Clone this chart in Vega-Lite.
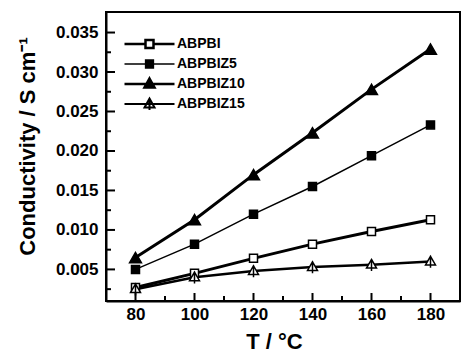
{
  "$schema": "https://vega.github.io/schema/vega-lite/v6.json",
  "width": 354,
  "height": 289,
  "autosize": {"type": "none"},
  "padding": {"left": 106, "top": 12, "right": 1, "bottom": 51},
  "background": "white",
  "config": {
    "view": {"stroke": "black", "strokeWidth": 2},
    "font": "Liberation Sans",
    "axis": {
      "domainColor": "black", "domainWidth": 2, "tickColor": "black", "tickWidth": 1.5,
      "labelFont": "Liberation Sans", "labelFontWeight": "bold", "labelFontSize": 17, "labelColor": "black",
      "titleFont": "Liberation Sans", "titleFontWeight": "bold", "titleFontSize": 22, "titleColor": "black",
      "grid": false, "labelOverlap": false
    }
  },
  "datasets": {
    "conductivity": [
      {"T": 80, "s": "ABPBI", "c": 0.0027}, {"T": 100, "s": "ABPBI", "c": 0.0045}, {"T": 120, "s": "ABPBI", "c": 0.0064},
      {"T": 140, "s": "ABPBI", "c": 0.0082}, {"T": 160, "s": "ABPBI", "c": 0.0098}, {"T": 180, "s": "ABPBI", "c": 0.0113},
      {"T": 80, "s": "ABPBIZ5", "c": 0.0050}, {"T": 100, "s": "ABPBIZ5", "c": 0.0082}, {"T": 120, "s": "ABPBIZ5", "c": 0.0120},
      {"T": 140, "s": "ABPBIZ5", "c": 0.0155}, {"T": 160, "s": "ABPBIZ5", "c": 0.0194}, {"T": 180, "s": "ABPBIZ5", "c": 0.0233},
      {"T": 80, "s": "ABPBIZ10", "c": 0.0065}, {"T": 100, "s": "ABPBIZ10", "c": 0.0113}, {"T": 120, "s": "ABPBIZ10", "c": 0.0170},
      {"T": 140, "s": "ABPBIZ10", "c": 0.0223}, {"T": 160, "s": "ABPBIZ10", "c": 0.0278}, {"T": 180, "s": "ABPBIZ10", "c": 0.0329},
      {"T": 80, "s": "ABPBIZ15", "c": 0.0025}, {"T": 100, "s": "ABPBIZ15", "c": 0.0040}, {"T": 120, "s": "ABPBIZ15", "c": 0.0048},
      {"T": 140, "s": "ABPBIZ15", "c": 0.0053}, {"T": 160, "s": "ABPBIZ15", "c": 0.0056}, {"T": 180, "s": "ABPBIZ15", "c": 0.0060}
    ],
    "xticks": [
      {"v": 80, "k": "major"}, {"v": 100, "k": "major"}, {"v": 120, "k": "major"}, {"v": 140, "k": "major"}, {"v": 160, "k": "major"}, {"v": 180, "k": "major"},
      {"v": 90, "k": "minor"}, {"v": 110, "k": "minor"}, {"v": 130, "k": "minor"}, {"v": 150, "k": "minor"}, {"v": 170, "k": "minor"}
    ],
    "yticks": [
      {"v": 0.005, "k": "major"}, {"v": 0.01, "k": "major"}, {"v": 0.015, "k": "major"}, {"v": 0.02, "k": "major"},
      {"v": 0.025, "k": "major"}, {"v": 0.03, "k": "major"}, {"v": 0.035, "k": "major"},
      {"v": 0.0025, "k": "minor"}, {"v": 0.0075, "k": "minor"}, {"v": 0.0125, "k": "minor"}, {"v": 0.0175, "k": "minor"},
      {"v": 0.0225, "k": "minor"}, {"v": 0.0275, "k": "minor"}, {"v": 0.0325, "k": "minor"}
    ]
  },
  "resolve": {
    "scale": {"shape": "independent", "fill": "independent", "strokeWidth": "independent", "size": "independent"},
    "axis": {"x": "independent", "y": "independent"}
  },
  "layer": [
    {
      "data": {"name": "conductivity"},
      "mark": {"type": "line", "color": "black"},
      "encoding": {
        "x": {"field": "T", "type": "quantitative", "scale": {"domain": [70, 190], "nice": false},
          "axis": {"orient": "bottom", "title": "T / °C", "values": [80, 100, 120, 140, 160, 180],
            "ticks": false, "labelPadding": 5, "titlePadding": 9, "titleX": 168}},
        "y": {"field": "c", "type": "quantitative", "scale": {"domain": [0.001, 0.0376], "nice": false, "zero": false},
          "axis": {"orient": "left", "title": "Conductivity / S cm⁻¹",
            "values": [0.005, 0.01, 0.015, 0.02, 0.025, 0.03, 0.035],
            "format": ".3f", "ticks": false, "labelPadding": 8, "titlePadding": 16, "titleY": 134}},
        "strokeWidth": {"field": "s", "type": "ordinal", "legend": null,
          "scale": {"type": "ordinal", "domain": ["ABPBI", "ABPBIZ5", "ABPBIZ10", "ABPBIZ15"], "range": [3, 1.5, 3, 2.5]}}
      }
    },
    {
      "data": {"name": "xticks"},
      "transform": [{"filter": "datum.k == 'major'"}],
      "mark": {"type": "tick", "orient": "vertical", "color": "black", "thickness": 2, "size": 8, "yOffset": -4, "opacity": 1},
      "encoding": {
        "x": {"field": "v", "type": "quantitative", "axis": null},
        "y": {"datum": 0.001, "type": "quantitative", "axis": null}
      }
    },
    {
      "data": {"name": "xticks"},
      "transform": [{"filter": "datum.k == 'minor'"}],
      "mark": {"type": "tick", "orient": "vertical", "color": "black", "thickness": 2, "size": 5, "yOffset": -2.5, "opacity": 1},
      "encoding": {
        "x": {"field": "v", "type": "quantitative", "axis": null},
        "y": {"datum": 0.001, "type": "quantitative", "axis": null}
      }
    },
    {
      "data": {"name": "yticks"},
      "transform": [{"filter": "datum.k == 'major'"}],
      "mark": {"type": "tick", "orient": "horizontal", "color": "black", "thickness": 2, "size": 9, "xOffset": 4.5, "opacity": 1},
      "encoding": {
        "x": {"datum": 70, "type": "quantitative", "axis": null},
        "y": {"field": "v", "type": "quantitative", "axis": null}
      }
    },
    {
      "data": {"name": "yticks"},
      "transform": [{"filter": "datum.k == 'minor'"}],
      "mark": {"type": "tick", "orient": "horizontal", "color": "black", "thickness": 2, "size": 5, "xOffset": 2.5, "opacity": 1},
      "encoding": {
        "x": {"datum": 70, "type": "quantitative", "axis": null},
        "y": {"field": "v", "type": "quantitative", "axis": null}
      }
    },
    {
      "data": {"name": "conductivity"},
      "mark": {"type": "point", "filled": true, "stroke": "black", "strokeWidth": 1.5, "opacity": 1},
      "encoding": {
        "x": {"field": "T", "type": "quantitative", "axis": null},
        "y": {"field": "c", "type": "quantitative", "axis": null},
        "shape": {"field": "s", "type": "nominal", "legend": null,
          "scale": {"domain": ["ABPBI", "ABPBIZ5", "ABPBIZ10", "ABPBIZ15"],
            "range": ["square", "square", "triangle-up", "M0,-1L0.95,0.65L-0.95,0.65ZM0,-1.1V1.2"]}},
        "fill": {"field": "s", "type": "nominal", "legend": null,
          "scale": {"domain": ["ABPBI", "ABPBIZ5", "ABPBIZ10", "ABPBIZ15"], "range": ["white", "black", "black", "white"]}},
        "size": {"field": "s", "type": "ordinal", "legend": null,
          "scale": {"type": "ordinal", "domain": ["ABPBI", "ABPBIZ5", "ABPBIZ10", "ABPBIZ15"], "range": [64, 64, 140, 110]}}
      }
    },
    {
      "data": {"name": "conductivity"},
      "transform": [{"filter": "false"}],
      "mark": {"type": "point", "filled": true, "stroke": "black", "opacity": 1},
      "encoding": {
        "shape": {"field": "s", "type": "nominal",
          "scale": {"domain": ["ABPBI", "ABPBIZ5", "ABPBIZ10", "ABPBIZ15"],
            "range": [
              "M-1,0H-0.16M0.16,0H1M-0.16,-0.16H0.16V0.16H-0.16Z",
              "M-1,0H-0.16M0.16,0H1M-0.16,-0.16H0.16V0.16H-0.16Z",
              "M-1,0H1M0,-0.22L0.2,0.14L-0.2,0.14Z",
              "M-1,0H1M0,-0.22L0.2,0.14L-0.2,0.14ZM0,-0.24V0.24"
            ]},
          "legend": {"title": null, "orient": "none", "legendX": 17, "legendY": 24,
            "symbolSize": 2500, "clipHeight": 16, "rowPadding": 4, "padding": 0, "labelOffset": 1,
            "labelFont": "Liberation Sans", "labelFontWeight": "bold", "labelFontSize": 14, "labelColor": "black",
            "encode": {"symbols": {"update": {"stroke": {"value": "black"}, "opacity": {"value": 1}}}}}},
        "fill": {"field": "s", "type": "nominal",
          "scale": {"domain": ["ABPBI", "ABPBIZ5", "ABPBIZ10", "ABPBIZ15"], "range": ["white", "black", "black", "white"]}},
        "strokeWidth": {"field": "s", "type": "ordinal",
          "scale": {"type": "ordinal", "domain": ["ABPBI", "ABPBIZ5", "ABPBIZ10", "ABPBIZ15"], "range": [2.5, 1.3, 2.5, 2]}}
      }
    }
  ]
}
